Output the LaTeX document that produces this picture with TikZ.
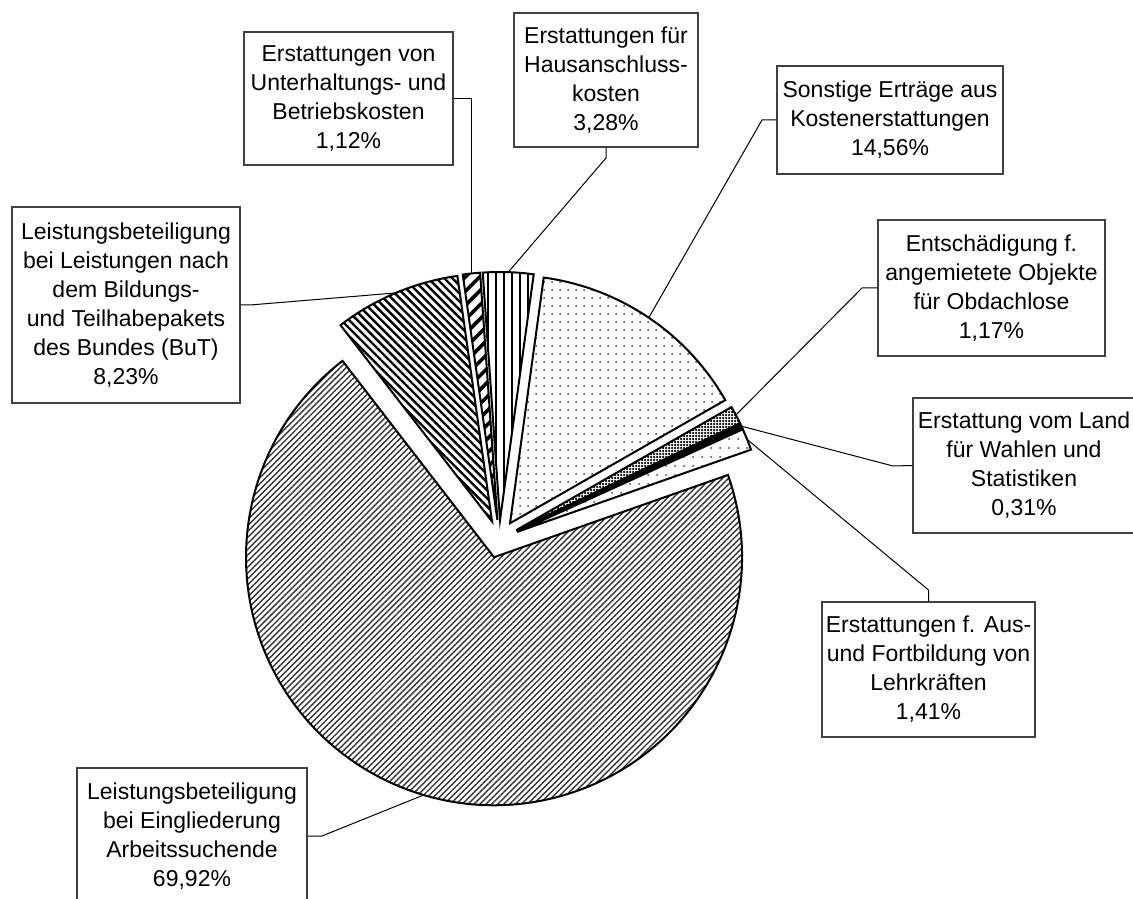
\documentclass[tikz,border=0pt]{standalone}
\usepackage{fontspec}
\setmainfont{Liberation Sans}
\usetikzlibrary{calc,patterns.meta}

\tikzset{
  lbl/.style={draw=black!75, line width=1.2pt, fill=white, align=center,
    inner sep=0pt, font=\fontsize{23}{29}\selectfont, text=black},
  slice/.style={draw=black, line width=2pt, line join=miter},
  leader/.style={draw=black, line width=1pt},
  vlines/.style={pattern={Lines[angle=90,distance=8pt,line width=1.8pt]}, pattern color=black},
  sparsedots/.style={pattern={Dots[distance=8pt,radius=1pt]}, pattern color=black!75},
  widedots/.style={pattern={Dots[distance=9pt,radius=1pt]}, pattern color=black!75},
  darkgrid/.style={pattern={Dots[distance=3pt,radius=1.25pt]}, pattern color=black},
  solidblack/.style={fill=black},
  finelines/.style={pattern={Lines[angle=45,distance=4.2pt,line width=1.4pt]}, pattern color=black!80},
  backlines/.style={pattern={Lines[angle=-45,distance=5.7pt,line width=2.4pt]}, pattern color=black},
  widediag/.style={pattern={Lines[angle=45,distance=10pt,line width=3.6pt]}, pattern color=black},
}

% one exploded slice: name, start and end angle (clockwise from 12 o'clock), fill style
\newcommand\pieslice[4]{%
  \pgfmathsetmacro\sa{90-#2}%
  \pgfmathsetmacro\ea{90-#3}%
  \pgfmathsetmacro\ma{(\sa+\ea)/2}%
  \coordinate (#1) at ($(C)+(\ma:19)$);
  \draw[slice,#4] (#1) -- ++(\sa:248) arc[start angle=\sa, end angle=\ea, radius=248] -- cycle;
  \coordinate (#1-rim) at ($(#1)+(\ma:248)$);
}

\begin{document}
\begin{tikzpicture}[x=1pt,y=1pt]
\useasboundingbox (0,0) rectangle (1133,898);
\clip (0,0) rectangle (1133,898);
\fill[white] (0,0) rectangle (1133,898);

\coordinate (C) at (499.4,359);

% slices, clockwise
\pieslice{s1}{-4.00}{7.81}{vlines}
\pieslice{s2}{7.81}{60.23}{sparsedots}
\pieslice{s3}{60.23}{64.44}{darkgrid}
\pieslice{s4}{64.44}{65.56}{solidblack}
\pieslice{s5}{65.56}{70.63}{widedots}
\pieslice{s6}{70.63}{322.34}{finelines}
\pieslice{s7}{322.34}{351.97}{backlines}
\pieslice{s8}{351.97}{356.00}{widediag}

% label boxes
\node[lbl, minimum width=228, minimum height=196] (but) at (126,593)
  {Leistungsbeteiligung\\bei Leistungen nach\\dem Bildungs-\\und Teilhabepakets\\des Bundes (BuT)\\8,23\%};
\node[lbl, minimum width=209, minimum height=133] (unter) at (348.5,799.5)
  {Erstattungen von\\Unterhaltungs- und\\Betriebskosten\\1,12\%};
\node[lbl, minimum width=184, minimum height=134] (haus) at (606,818)
  {Erstattungen für\\Hausanschluss-\\kosten\\3,28\%};
\node[lbl, minimum width=226, minimum height=108] (sonst) at (890,778)
  {Sonstige Erträge aus\\Kostenerstattungen\\14,56\%};
\node[lbl, minimum width=227, minimum height=136] (ents) at (991.5,610)
  {Entschädigung f.\\angemietete Objekte\\für Obdachlose\\1,17\%};
\node[lbl, minimum width=222, minimum height=135] (land) at (1024,432.5)
  {Erstattung vom Land\\für Wahlen und\\Statistiken\\0,31\%};
\node[lbl, minimum width=213, minimum height=135] (aus) at (928.5,228.5)
  {Erstattungen f. Aus-\\und Fortbildung von\\Lehrkräften\\1,41\%};
\node[lbl, minimum width=230, minimum height=136] (eing) at (192,62)
  {Leistungsbeteiligung\\bei Eingliederung\\Arbeitssuchende\\69,92\%};

% leader bends
\coordinate (b-but) at (250,593);
\coordinate (b-haus) at (606,740);
\coordinate (b-sonst) at (762,778);
\coordinate (b-ents) at (862,610);
\coordinate (b-land) at (893,432);
\coordinate (b-aus) at (928.5,308);
\coordinate (b-eing) at (322,62);

% leaders
\draw[leader] (s7-rim) -- (b-but) -- (but.east);
\draw[leader] (s8-rim) |- (unter.east);
\draw[leader] (s1-rim) -- (b-haus) -- (haus.south);
\draw[leader] (s2-rim) -- (b-sonst) -- (sonst.west);
\draw[leader] (s3-rim) -- (b-ents) -- (ents.west);
\draw[leader] (s4-rim) -- (b-land) -- (land.west);
\draw[leader] (s5-rim) -- (b-aus) -- (aus.north);
\draw[leader] (s6-rim) -- (b-eing) -- (eing.east);
\end{tikzpicture}
\end{document}
